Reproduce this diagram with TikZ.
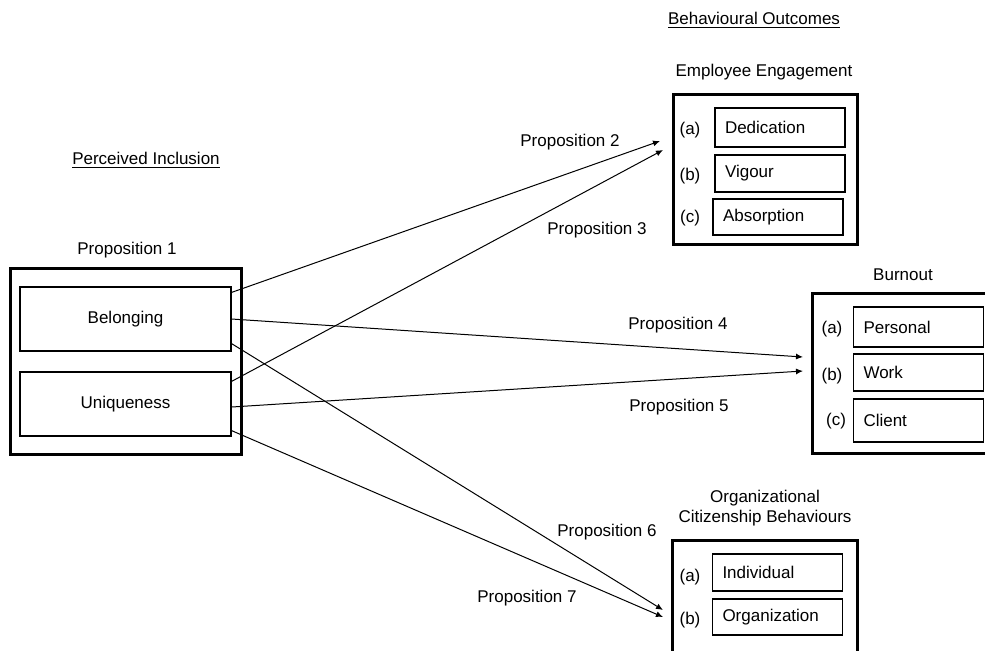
\documentclass[tikz,border=0pt]{standalone}
\usepackage{fontspec}
\setmainfont{Liberation Sans}
\usetikzlibrary{arrows.meta, positioning}

\begin{document}
\begin{tikzpicture}[x=0.5pt, y=-0.5pt, font=\fontsize{8.5}{10}\selectfont]
    % Define styles
    \tikzstyle{outer} = [rectangle, draw, line width=1.5pt, inner sep=0pt]
    \tikzstyle{construct} = [rectangle, draw, line width=0.6pt, minimum width=105.5pt, minimum height=32pt]
    \tikzstyle{facet} = [rectangle, draw, line width=0.6pt, inner xsep=5pt, inner ysep=0pt, text width=55pt, align=left, minimum height=19pt]
    \tikzstyle{prop} = [draw, line width=0.5pt, -{Latex[length=3.5pt, width=3pt]}]

    \clip (0,0) rectangle (985,650);

    % Headings
    \node (inclhead) at (146,160) {\underline{Perceived Inclusion}};
    \node (outhead) at (754,20) {\underline{Behavioural Outcomes}};
    \node (p1lab) at (127,250) {Proposition 1};

    % Perceived inclusion
    \node[outer, minimum width=115.5pt, minimum height=93pt] (incl) at (125.5,361) {};
    \node[construct] (bel) at (125.5,319) {Belonging};
    \node[construct] (uni) at (125.5,404) {Uniqueness};

    % Employee engagement
    \node (enghead) at (764,72) {Employee Engagement};
    \node[outer, minimum width=92pt, minimum height=75pt] (eng) at (765,169) {};
    \node[facet, minimum height=19.5pt] (ded) at (780,127.5) {Dedication};
    \node[facet, minimum height=18.5pt] (vig) at (780,173.5) {Vigour};
    \node[facet, minimum height=18pt] (abs) at (778,217) {Absorption};
    \node (enga) at (690,130) {(a)};
    \node (engb) at (690,176) {(b)};
    \node (engc) at (690,218) {(c)};

    % Burnout
    \node (burhead) at (903,275) {Burnout};
    \node[outer, minimum width=90pt, minimum height=80pt] (bur) at (902,373) {};
    \node[facet, minimum height=20pt] (pers) at (918.5,327) {Personal};
    \node[facet, minimum height=18.5pt] (work) at (918.5,372.5) {Work};
    \node[facet, minimum height=21.5pt] (cli) at (918.5,420.5) {Client};
    \node (bura) at (832,329) {(a)};
    \node (burb) at (832,376) {(b)};
    \node (burc) at (836,421) {(c)};

    % Organizational citizenship behaviours
    \node[align=center] (ocbhead) at (765,508) {Organizational\\Citizenship Behaviours};
    \node[outer, minimum width=92.5pt, minimum height=60pt] (ocb) at (764.5,600) {};
    \node[facet, minimum height=18.5pt] (indiv) at (777.5,572.5) {Individual};
    \node[facet, minimum height=18pt] (org) at (777.5,617) {Organization};
    \node (ocba) at (690,577) {(a)};
    \node (ocbb) at (690,620) {(b)};

    % Arrow ends
    \coordinate (eng2) at (660,141);
    \coordinate (eng3) at (663,150);
    \coordinate (bur4) at (803,357);
    \coordinate (bur5) at (803,371);
    \coordinate (ocb6) at (663,610);
    \coordinate (ocb7) at (663,617);

    % Propositions
    \draw[prop] ([yshift=-3pt]bel.north east) -- (eng2);
    \draw[prop] ([yshift=-5pt]uni.north east) -- (eng3);
    \draw[prop] (bel.east) -- (bur4);
    \draw[prop] ([yshift=-1.5pt]uni.east) -- (bur5);
    \draw[prop] ([yshift=4pt]bel.south east) -- (ocb6);
    \draw[prop] ([yshift=3pt]uni.south east) -- (ocb7);

    \node (p2lab) at (570,142) {Proposition 2};
    \node (p3lab) at (597,230) {Proposition 3};
    \node (p4lab) at (678,325) {Proposition 4};
    \node (p5lab) at (679,407) {Proposition 5};
    \node (p6lab) at (607,532) {Proposition 6};
    \node (p7lab) at (527,598) {Proposition 7};
\end{tikzpicture}
\end{document}
